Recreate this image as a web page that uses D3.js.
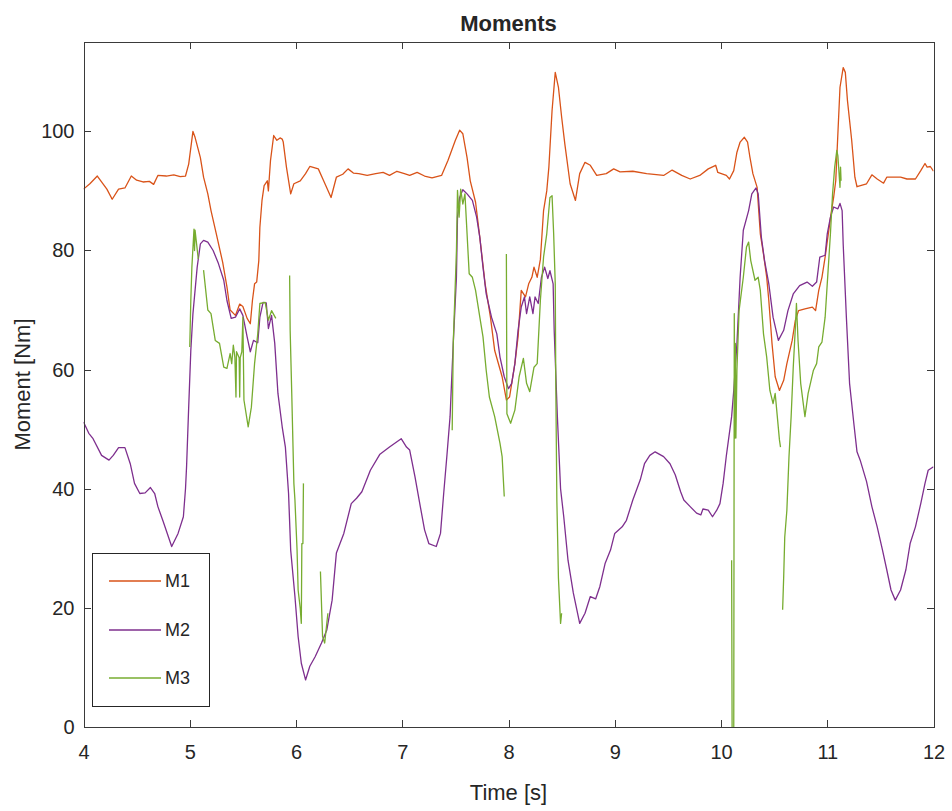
<!DOCTYPE html>
<html>
<head>
<meta charset="utf-8">
<title>Moments</title>
<script src="https://cdn.jsdelivr.net/npm/d3@7"></script>
<style>
    body { margin: 0; background: #fff; }
    text { font-family: "Liberation Sans", Arial, sans-serif; fill: #262626; }
</style>
</head>
<body>
<div id="chart"></div>
<script>
// time [s] / moment [Nm] samples, null marks a gap in the signal
const m1 = [
    [4.00,90.3],[4.06,91.2],[4.13,92.5],[4.22,90.3],[4.27,88.6],[4.33,90.3],[4.39,90.5],[4.45,92.5],[4.50,91.8],
    [4.56,91.5],[4.62,91.6],[4.66,91.1],[4.70,92.6],[4.78,92.5],[4.85,92.7],[4.91,92.4],[4.96,92.5],[4.99,94.5],
    [5.03,100.0],[5.05,99.0],[5.10,95.6],[5.13,92.3],[5.17,89.5],[5.20,86.7],[5.25,82.8],[5.31,78.0],[5.35,73.9],
    [5.38,70.0],[5.43,69.1],[5.47,71.0],[5.50,70.6],[5.54,68.6],[5.57,67.7],[5.59,71.6],[5.61,74.4],[5.63,74.7],
    [5.65,78.3],[5.66,83.9],[5.68,88.4],[5.70,90.9],[5.73,91.7],[5.74,90.0],[5.76,95.1],[5.79,99.3],[5.82,98.5],
    [5.85,98.9],[5.87,98.7],[5.88,98.2],[5.91,94.0],[5.95,89.5],[5.98,91.2],[6.04,91.7],[6.09,92.9],[6.13,94.1],
    [6.21,93.7],[6.26,91.7],[6.33,88.9],[6.38,92.3],[6.44,92.8],[6.49,93.7],[6.54,93.0],[6.59,92.9],[6.67,92.6],
    [6.75,92.9],[6.82,93.1],[6.88,92.6],[6.95,93.3],[7.02,92.9],[7.07,92.6],[7.14,93.1],[7.21,92.5],[7.28,92.2],
    [7.37,92.6],[7.43,95.1],[7.50,98.5],[7.54,100.2],[7.57,99.6],[7.61,95.6],[7.64,91.7],[7.69,88.1],[7.73,82.2],
    [7.78,74.4],[7.83,68.8],[7.87,63.2],[7.94,58.8],[7.98,54.9],[8.01,55.4],[8.06,61.0],[8.09,65.5],[8.12,73.3],
    [8.16,72.2],[8.19,74.4],[8.22,75.5],[8.24,77.2],[8.27,75.5],[8.30,78.5],[8.33,86.7],[8.36,90.0],[8.38,94.0],
    [8.41,103.5],[8.44,109.9],[8.47,107.4],[8.50,102.4],[8.53,97.9],[8.58,91.2],[8.63,88.4],[8.67,92.9],[8.72,94.8],
    [8.77,94.3],[8.83,92.6],[8.92,92.9],[8.99,93.7],[9.05,93.2],[9.17,93.3],[9.30,92.9],[9.46,92.6],[9.54,93.5],
    [9.63,92.6],[9.71,92.0],[9.80,92.6],[9.88,93.7],[9.95,94.3],[9.97,93.1],[10.05,92.6],[10.08,92.0],[10.12,93.4],
    [10.15,96.5],[10.18,98.2],[10.22,99.0],[10.25,98.2],[10.27,95.9],[10.30,92.9],[10.34,90.6],[10.37,82.8],
    [10.40,79.4],[10.43,75.5],[10.45,71.6],[10.48,64.4],[10.51,58.8],[10.55,56.5],[10.59,58.2],[10.62,61.0],
    [10.67,64.9],[10.70,68.3],[10.73,69.9],[10.79,70.2],[10.86,70.5],[10.89,69.9],[10.92,73.3],[10.95,75.5],
    [10.98,78.9],[11.01,82.8],[11.04,86.7],[11.06,88.9],[11.08,91.7],[11.10,99.6],[11.12,107.4],[11.15,110.7],
    [11.17,109.9],[11.19,105.2],[11.23,98.5],[11.26,92.3],[11.28,90.7],[11.37,91.2],[11.42,92.7],[11.47,92.0],
    [11.53,91.3],[11.56,92.3],[11.69,92.3],[11.75,92.0],[11.83,92.0],[11.88,93.4],[11.92,94.6],[11.94,94.0],
    [11.97,94.1],[12.00,93.3]
];

const m2 = [
    [4.00,51.2],[4.05,49.3],[4.09,48.4],[4.17,45.6],[4.24,44.8],[4.28,45.6],[4.33,46.9],[4.39,46.9],[4.44,44.2],
    [4.48,40.9],[4.53,39.2],[4.58,39.3],[4.63,40.2],[4.67,39.2],[4.70,37.0],[4.75,34.5],[4.83,30.3],[4.89,32.5],
    [4.94,35.3],[4.96,40.0],[4.97,43.7],[4.99,53.7],[5.01,63.2],[5.03,69.4],[5.07,77.2],[5.10,81.1],[5.13,81.7],
    [5.17,81.4],[5.22,80.0],[5.27,77.8],[5.32,75.0],[5.35,71.6],[5.39,68.6],[5.43,68.8],[5.47,70.2],[5.50,69.1],
    [5.54,65.5],[5.57,63.0],[5.60,64.9],[5.64,64.5],[5.66,68.8],[5.69,71.3],[5.72,71.2],[5.74,66.9],[5.77,69.1],
    [5.80,64.4],[5.83,56.0],[5.87,50.4],[5.90,47.0],[5.93,39.2],[5.95,29.7],[5.99,21.9],[6.02,15.2],[6.05,10.7],
    [6.09,7.9],[6.13,10.2],[6.18,11.8],[6.24,14.1],[6.29,16.3],[6.34,21.3],[6.38,29.2],[6.45,32.5],[6.52,37.5],
    [6.57,38.4],[6.62,39.5],[6.70,43.1],[6.79,45.8],[6.88,47.0],[6.99,48.4],[7.04,47.0],[7.07,46.5],[7.12,42.0],
    [7.17,37.0],[7.21,33.1],[7.25,30.8],[7.32,30.3],[7.36,32.5],[7.39,39.2],[7.42,45.5],[7.45,52.1],[7.48,64.4],
    [7.51,75.5],[7.52,85.6],[7.54,88.9],[7.57,90.2],[7.61,89.5],[7.66,88.4],[7.70,85.6],[7.73,82.2],[7.76,77.2],
    [7.79,72.7],[7.84,68.8],[7.89,66.0],[7.92,62.1],[7.96,58.8],[8.00,56.8],[8.03,57.7],[8.06,61.0],[8.09,66.6],
    [8.12,70.5],[8.15,72.2],[8.17,69.4],[8.20,72.2],[8.23,69.4],[8.25,72.2],[8.28,71.1],[8.31,75.5],[8.34,77.2],
    [8.37,75.3],[8.39,76.6],[8.42,74.4],[8.43,66.6],[8.46,52.1],[8.49,40.0],[8.52,35.3],[8.56,28.0],[8.61,22.5],
    [8.67,17.4],[8.72,19.1],[8.77,21.9],[8.82,21.5],[8.86,23.6],[8.91,27.5],[8.96,29.7],[9.00,32.5],[9.07,33.6],
    [9.11,34.7],[9.17,38.1],[9.24,41.5],[9.28,44.2],[9.33,45.6],[9.38,46.2],[9.46,45.4],[9.52,44.2],[9.57,42.3],
    [9.62,39.5],[9.65,38.1],[9.71,37.0],[9.77,35.9],[9.81,35.6],[9.83,36.6],[9.88,36.4],[9.92,35.3],[9.96,36.4],
    [9.99,37.5],[10.02,40.9],[10.05,45.5],[10.10,52.1],[10.12,56.5],[10.15,64.4],[10.18,75.5],[10.21,83.4],
    [10.26,86.7],[10.29,89.5],[10.33,90.5],[10.35,89.5],[10.38,82.2],[10.41,78.3],[10.45,74.4],[10.49,68.8],
    [10.54,64.9],[10.59,66.6],[10.63,69.9],[10.68,72.7],[10.74,74.1],[10.81,74.7],[10.86,74.0],[10.90,74.7],
    [10.93,78.9],[10.98,79.2],[11.00,82.8],[11.03,85.6],[11.06,87.3],[11.10,87.0],[11.12,87.9],[11.14,86.7],
    [11.15,81.1],[11.18,68.8],[11.21,57.7],[11.25,51.0],[11.28,46.2],[11.31,44.8],[11.37,41.2],[11.42,37.0],
    [11.47,33.6],[11.52,29.7],[11.56,26.4],[11.60,23.0],[11.64,21.3],[11.69,23.0],[11.74,26.4],[11.78,30.8],
    [11.83,33.6],[11.88,37.5],[11.92,40.9],[11.95,43.1],[12.00,43.7]
];

const m3 = [
    [5.00,63.8],[5.01,71.6],[5.02,77.2],[5.04,83.6],[5.045,80.0],[5.05,83.4],[5.08,78.6],[5.09,null],
    [5.13,76.7],[5.17,70.0],[5.20,69.4],[5.24,64.9],[5.28,64.4],[5.32,60.4],[5.35,60.2],[5.38,62.7],[5.395,61.0],
    [5.41,64.1],[5.425,62.0],[5.435,55.4],[5.44,63.0],[5.465,62.0],[5.47,55.4],[5.475,62.0],[5.49,63.0],[5.50,68.8],
    [5.51,54.9],[5.55,50.4],[5.58,53.7],[5.61,61.0],[5.64,66.0],[5.66,71.1],[5.71,71.3],[5.74,68.3],[5.77,69.9],
    [5.81,68.6],[5.82,null],
    [5.94,75.8],[5.945,66.6],[5.96,56.0],[5.98,40.9],[5.99,38.1],[6.01,29.7],[6.02,23.0],[6.04,19.9],[6.05,17.4],
    [6.055,30.8],[6.065,30.8],[6.07,40.9],[6.08,null],
    [6.23,26.1],[6.25,15.2],[6.27,14.1],[6.30,19.1],[6.31,null],
    [7.47,49.8],[7.48,64.4],[7.51,80.0],[7.52,90.1],[7.535,85.6],[7.55,90.3],[7.57,87.8],[7.59,89.5],[7.61,82.8],
    [7.63,76.1],[7.66,75.5],[7.69,73.3],[7.73,68.8],[7.76,65.5],[7.79,59.9],[7.82,55.4],[7.87,52.1],[7.92,47.6],
    [7.94,45.4],[7.96,38.7],[7.97,null],
    [7.98,79.4],[7.985,52.6],[8.02,51.0],[8.06,53.2],[8.10,58.8],[8.14,61.9],[8.17,57.7],[8.20,56.3],[8.24,60.4],
    [8.27,61.0],[8.30,71.6],[8.33,78.9],[8.36,82.8],[8.39,88.9],[8.41,89.2],[8.425,82.8],[8.44,74.4],[8.445,57.7],
    [8.455,38.1],[8.47,25.0],[8.49,17.4],[8.50,19.1],[8.51,null],
    [10.10,28.0],[10.105,-3.0],[10.12,-3.0],[10.125,69.4],[10.13,48.5],[10.135,64.4],[10.14,48.5],[10.15,60.0],
    [10.17,69.9],[10.21,75.5],[10.24,80.6],[10.26,81.4],[10.28,78.3],[10.32,75.0],[10.35,75.5],[10.37,73.3],
    [10.40,66.0],[10.43,62.1],[10.46,56.5],[10.49,54.3],[10.51,56.0],[10.53,52.1],[10.55,48.2],[10.56,47.0],
    [10.57,null],
    [10.58,19.7],[10.59,25.2],[10.60,31.9],[10.62,36.4],[10.63,40.9],[10.64,45.4],[10.66,52.1],[10.68,60.4],
    [10.70,67.1],[10.71,71.1],[10.725,64.9],[10.75,57.7],[10.79,52.1],[10.82,56.0],[10.87,59.9],[10.90,61.0],
    [10.92,63.8],[10.95,64.6],[10.98,68.8],[11.00,74.4],[11.03,82.8],[11.05,89.5],[11.07,94.0],[11.09,96.8],
    [11.10,95.9],[11.12,90.6],[11.125,94.0],[11.13,91.7]
];

const seriesNames = ["M1", "M2", "M3"];
const seriesColors = ["#D95319", "#7E2F8E", "#77AC30"];
const xTicks = [4, 5, 6, 7, 8, 9, 10, 11, 12];
const yTicks = [0, 20, 40, 60, 80, 100];

const svg = d3.select("#chart").append("svg")
    .attr("width", 952)
    .attr("height", 811);

const margin = { top: 42, right: 18.5, bottom: 84, left: 83.5 };
const width = 952 - margin.left - margin.right;
const height = 811 - margin.top - margin.bottom;

const g = svg.append("g").attr("transform", `translate(${margin.left},${margin.top})`);

const x = d3.scaleLinear().domain([4, 12]).range([0, width]);
const y = d3.scaleLinear().domain([0, 115]).range([height, 0]);

g.append("clipPath").attr("id", "plot-clip")
    .append("rect").attr("width", width).attr("height", height);

// data lines
const line = d3.line()
    .defined(d => d[1] !== null)
    .x(d => x(d[0]))
    .y(d => y(d[1]));

const lines = g.append("g").attr("clip-path", "url(#plot-clip)");
[m1, m2, m3].forEach((data, i) => {
    lines.append("path")
        .datum(data)
        .attr("fill", "none")
        .attr("stroke", seriesColors[i])
        .attr("stroke-width", 1.3)
        .attr("stroke-linejoin", "round")
        .attr("d", line);
});

// box axes with inward ticks
function styleAxis(sel) {
    sel.selectAll("path, line")
        .attr("stroke", "#3a3a3a")
        .attr("shape-rendering", "crispEdges");
    sel.selectAll("text")
        .attr("font-size", 20)
        .attr("font-family", "'Liberation Sans', Arial, sans-serif")
        .attr("fill", "#262626");
}

g.append("g")
    .attr("transform", `translate(0,${height})`)
    .call(d3.axisBottom(x).tickValues(xTicks).tickSizeInner(-7).tickSizeOuter(0).tickPadding(18))
    .call(styleAxis);

g.append("g")
    .call(d3.axisTop(x).tickValues(xTicks).tickSizeInner(-7).tickSizeOuter(0).tickFormat(""))
    .call(styleAxis);

g.append("g")
    .call(d3.axisLeft(y).tickValues(yTicks).tickSizeInner(-7).tickSizeOuter(0).tickPadding(9))
    .call(styleAxis);

g.append("g")
    .attr("transform", `translate(${width},0)`)
    .call(d3.axisRight(y).tickValues(yTicks).tickSizeInner(-7).tickSizeOuter(0).tickFormat(""))
    .call(styleAxis);

// title and axis labels
svg.append("text")
    .attr("x", margin.left + width / 2)
    .attr("y", 31)
    .attr("text-anchor", "middle")
    .attr("font-size", 22)
    .attr("font-weight", "bold")
    .attr("fill", "#000")
    .text("Moments");

svg.append("text")
    .attr("x", margin.left + width / 2)
    .attr("y", 800)
    .attr("text-anchor", "middle")
    .attr("font-size", 22)
    .text("Time [s]");

svg.append("text")
    .attr("transform", `translate(30,${margin.top + height / 2}) rotate(-90)`)
    .attr("text-anchor", "middle")
    .attr("font-size", 22)
    .text("Moment [Nm]");

// legend
const legend = svg.append("g");
legend.append("rect")
    .attr("x", 92)
    .attr("y", 553.5)
    .attr("width", 117)
    .attr("height", 153)
    .attr("fill", "#fff")
    .attr("stroke", "#262626")
    .attr("shape-rendering", "crispEdges");

const legendY = [581, 630, 678];
seriesNames.forEach((name, i) => {
    legend.append("line")
        .attr("x1", 109).attr("x2", 161)
        .attr("y1", legendY[i]).attr("y2", legendY[i])
        .attr("stroke", seriesColors[i])
        .attr("stroke-width", 1.3);
    legend.append("text")
        .attr("x", 165)
        .attr("y", legendY[i])
        .attr("dy", "0.36em")
        .attr("font-size", 18)
        .text(name);
});
</script>
</body>
</html>
